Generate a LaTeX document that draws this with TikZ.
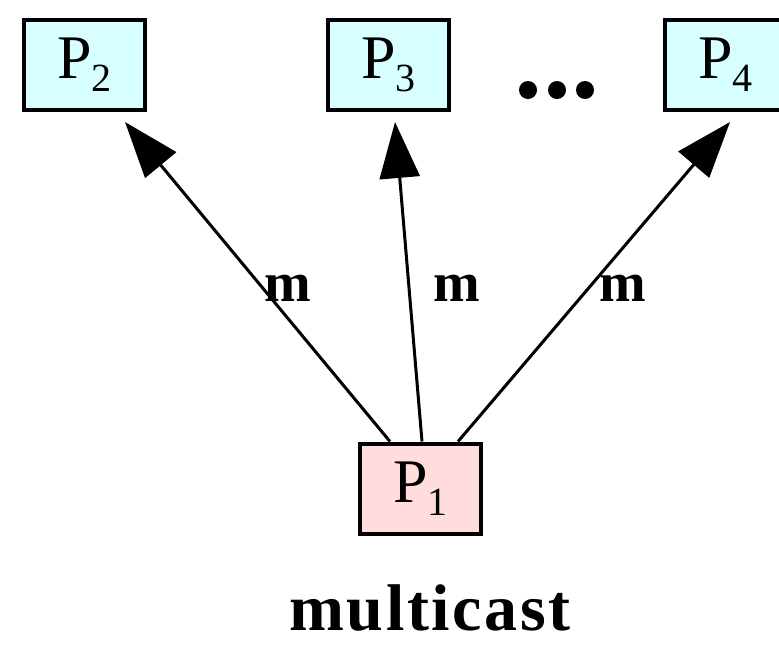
\documentclass[tikz,border=0pt]{standalone}
\usepackage{fontspec}
\setmainfont{Liberation Serif}
\usetikzlibrary{arrows.meta}
\definecolor{procblue}{HTML}{D8FFFF}
\definecolor{procpink}{HTML}{FFDDDD}
\newcommand{\pname}[1]{P\raisebox{-6.5pt}{\fontsize{20pt}{20pt}\selectfont #1}}

\begin{document}
\begin{tikzpicture}[x=0.5pt, y=-0.5pt,
    proc/.style={draw, line width=2pt, minimum width=60.5pt, minimum height=45pt,
      inner sep=0pt, font=\fontsize{31pt}{31pt}\selectfont},
    msg/.style={line width=1.5pt, -{Triangle[length=28pt,width=20pt]}},
    lbl/.style={font=\fontsize{28pt}{28pt}\selectfont\bfseries}]
  \useasboundingbox (0,0) rectangle (779,644);
  \node[proc, fill=procpink] (p1) at (420.5, 488.5) {\pname{1}};
  \node[proc, fill=procblue] (p2) at (84.5, 65) {\pname{2}};
  \node[proc, fill=procblue] (p3) at (388.5, 65) {\pname{3}};
  \node[proc, fill=procblue] (p4) at (725.5, 65) {\pname{4}};
  \foreach \x in {528, 557, 585} {
    \fill (\x, 90) circle (4.5pt);
  }
  \draw[msg] ([xshift=-15.25pt]p1.north) -- ([xshift=20.25pt, yshift=-5pt]p2.south);
  \draw[msg] ([xshift=0.75pt]p1.north) -- ([xshift=3.25pt, yshift=-5pt]p3.south);
  \draw[msg] ([xshift=18.75pt]p1.north) -- ([xshift=2.25pt, yshift=-5pt]p4.south);
  \node[lbl] (m2) at (288, 288) {m};
  \node[lbl] (m3) at (457, 288) {m};
  \node[lbl] (m4) at (623, 288) {m};
  \node[lbl, font=\fontsize{33pt}{33pt}\selectfont\bfseries, anchor=base, inner sep=0pt]
    (cast) at (430, 630) {\addfontfeature{LetterSpace=4}multicast};
\end{tikzpicture}
\end{document}
